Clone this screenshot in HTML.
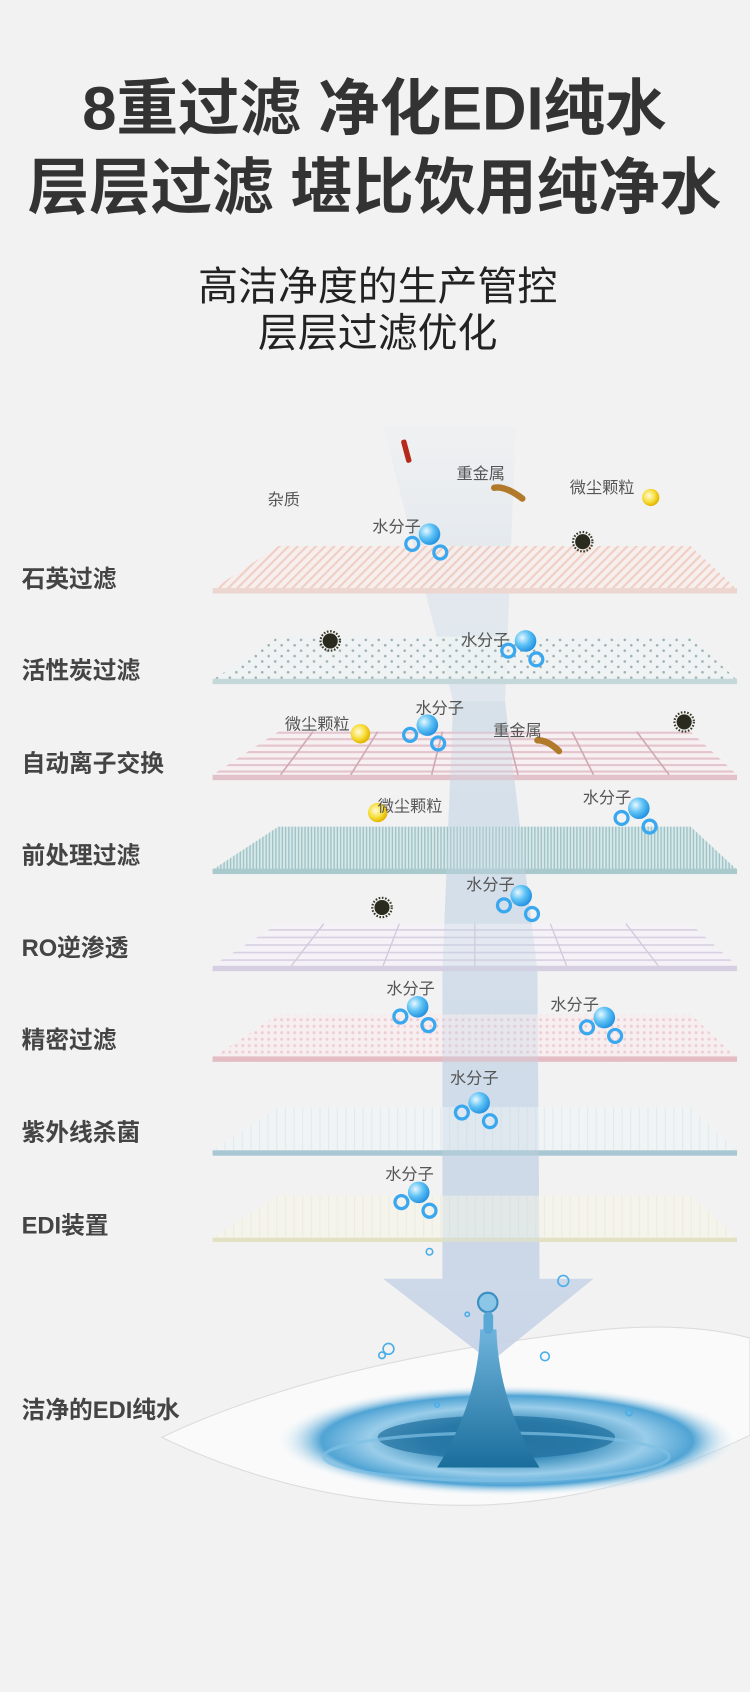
<!DOCTYPE html>
<html><head><meta charset="utf-8">
<style>
html,body{margin:0;padding:0;background:#f2f2f2;}
svg{display:block;}
text{font-family:"Liberation Sans","Noto Sans CJK SC",sans-serif;}
</style></head>
<body>
<svg width="750" height="1692" viewBox="0 0 695 1568" xmlns="http://www.w3.org/2000/svg">
<defs>
<pattern id="p1" width="6" height="6" patternUnits="userSpaceOnUse" patternTransform="rotate(45)">
<rect width="6" height="6" fill="#f8efec"/><rect width="2" height="6" fill="#efc9bd"/></pattern>
<pattern id="p2" width="12" height="10" patternUnits="userSpaceOnUse">
<rect width="12" height="10" fill="#eef3f3"/><circle cx="3" cy="3" r="1.2" fill="#8fa3a3"/><circle cx="9" cy="8" r="1.2" fill="#8fa3a3"/></pattern>
<pattern id="p3" width="10" height="6" patternUnits="userSpaceOnUse">
<rect width="10" height="6" fill="#f8f0f2"/><rect y="0" width="10" height="2" fill="#e2bcc6"/></pattern>
<pattern id="p4" width="3" height="6" patternUnits="userSpaceOnUse">
<rect width="3" height="6" fill="#d9e9ea"/><rect width="1.3" height="6" fill="#9fc3c7"/></pattern>
<pattern id="p5" width="10" height="7" patternUnits="userSpaceOnUse">
<rect width="10" height="7" fill="#f4f2f7"/><rect width="10" height="1.5" fill="#d4cbe0"/></pattern>
<pattern id="p6" width="6" height="6" patternUnits="userSpaceOnUse">
<rect width="6" height="6" fill="#f7eef0"/><circle cx="3" cy="3" r="1.4" fill="#edc9d0"/></pattern>
<pattern id="p7" width="8" height="6" patternUnits="userSpaceOnUse">
<rect width="8" height="6" fill="#f0f4f6"/><rect width="1" height="6" fill="#dde8ee"/></pattern>
<pattern id="p8" width="8" height="6" patternUnits="userSpaceOnUse">
<rect width="8" height="6" fill="#f5f4ea"/><rect width="1" height="6" fill="#eceadb"/></pattern>
<radialGradient id="mol" cx="0.35" cy="0.35" r="0.7">
<stop offset="0" stop-color="#e8f8ff"/><stop offset="0.5" stop-color="#5ec2f5"/><stop offset="1" stop-color="#1f8fe0"/></radialGradient>
<radialGradient id="yel" cx="0.4" cy="0.4" r="0.6">
<stop offset="0" stop-color="#fffbe0"/><stop offset="0.6" stop-color="#f7de3a"/><stop offset="1" stop-color="#e2b400"/></radialGradient>
<linearGradient id="beam" x1="0" y1="0" x2="0" y2="1">
<stop offset="0" stop-color="#d6e2ee" stop-opacity="0.1"/><stop offset="0.15" stop-color="#d0dde9" stop-opacity="0.45"/><stop offset="0.7" stop-color="#c9d6e8" stop-opacity="0.7"/><stop offset="1" stop-color="#c5d2e6" stop-opacity="0.9"/></linearGradient>
<radialGradient id="pool" cx="0.5" cy="0.5" r="0.5">
<stop offset="0" stop-color="#1f6f9a"/><stop offset="0.35" stop-color="#2b86b8"/><stop offset="0.6" stop-color="#8fc8e8"/><stop offset="0.8" stop-color="#3d9ad0"/><stop offset="1" stop-color="#ffffff" stop-opacity="0"/></radialGradient>
<linearGradient id="col" x1="0" y1="0" x2="0" y2="1">
<stop offset="0" stop-color="#6fb4dc"/><stop offset="1" stop-color="#1a6e9c"/></linearGradient>
<g id="m"><circle cx="0" cy="0" r="10" fill="url(#mol)"/><circle cx="-16" cy="9" r="6" fill="none" stroke="#3aa8ef" stroke-width="3"/><circle cx="10" cy="17" r="6" fill="none" stroke="#3aa8ef" stroke-width="3"/></g>
<g id="dk"><circle r="7" fill="#2a2a1e"/><circle r="9" fill="none" stroke="#3a3a2a" stroke-width="2" stroke-dasharray="1.5 1.5"/></g>
</defs>

<rect width="695" height="1568" fill="#f2f2f2"/>

<text x="347" y="120" text-anchor="middle" font-size="57" font-weight="bold" fill="#333">8重过滤 净化EDI纯水</text>
<text x="347" y="193" text-anchor="middle" font-size="57" font-weight="bold" fill="#333">层层过滤 堪比饮用纯净水</text>
<text x="350" y="278" text-anchor="middle" font-size="37" fill="#222">高洁净度的生产管控</text>
<text x="350" y="321" text-anchor="middle" font-size="37" fill="#222">层层过滤优化</text>

<path d="M150,1332 Q300,1260 560,1232 Q640,1225 695,1240 L695,1330 Q560,1395 430,1395 Q280,1395 150,1332Z" fill="#fafafa" stroke="#dcdcdc" stroke-width="1"/>

<polygon points="355,395 478,395 468,650 498,900 500,1185 550,1185 455,1262 355,1185 410,1185 410,900 420,650" fill="url(#beam)"/>

<g>
<polygon points="258,506 640,506 683,546 197,546" fill="url(#p1)" opacity="0.85"/><rect x="197" y="545" width="486" height="5" fill="#ecd6cf"/>
<polygon points="258,590 640,590 683,630 197,630" fill="url(#p2)" opacity="0.85"/><rect x="197" y="629" width="486" height="5" fill="#c4d8da"/>
<polygon points="258,678 640,678 683,718 197,718" fill="url(#p3)" opacity="0.85"/><rect x="197" y="718" width="486" height="5" fill="#e2c2ca"/>
<g stroke="#cfa9b4" stroke-width="1.5"><line x1="290" y1="678" x2="260" y2="718"/><line x1="350" y1="678" x2="325" y2="718"/><line x1="410" y1="678" x2="400" y2="718"/><line x1="470" y1="678" x2="480" y2="718"/><line x1="530" y1="678" x2="550" y2="718"/><line x1="590" y1="678" x2="620" y2="718"/></g>
<polygon points="258,766 640,766 683,806 197,806" fill="url(#p4)"/><rect x="197" y="805" width="486" height="5" fill="#a9c9cc"/>
<polygon points="258,856 640,856 683,895 197,895" fill="url(#p5)" opacity="0.9"/><rect x="197" y="895" width="486" height="5" fill="#d6cfe2"/>
<g stroke="#d2c8de" stroke-width="1.2"><line x1="300" y1="856" x2="270" y2="895"/><line x1="370" y1="856" x2="355" y2="895"/><line x1="440" y1="856" x2="440" y2="895"/><line x1="510" y1="856" x2="525" y2="895"/><line x1="580" y1="856" x2="610" y2="895"/></g>
<polygon points="258,940 640,940 683,980 197,980" fill="url(#p6)" opacity="0.9"/><rect x="197" y="979" width="486" height="5" fill="#e3bcc4"/>
<polygon points="258,1026 640,1026 683,1066 197,1066" fill="url(#p7)" opacity="0.8"/><rect x="197" y="1066" width="486" height="5" fill="#a8c7d2"/>
<polygon points="258,1108 640,1108 683,1147 197,1147" fill="url(#p8)" opacity="0.8"/><rect x="197" y="1147" width="486" height="4" fill="#e2e1c4"/>
</g>

<polygon points="420,650 468,650 498,900 500,1185 410,1185 410,900" fill="#c8d8e6" opacity="0.3"/>

<ellipse cx="470" cy="1335" rx="215" ry="52" fill="url(#pool)" opacity="0.9"/>
<ellipse cx="460" cy="1332" rx="110" ry="20" fill="#1e6e9c" opacity="0.7"/>
<ellipse cx="460" cy="1350" rx="160" ry="22" fill="none" stroke="#7fc0e4" stroke-width="3" opacity="0.7"/>
<path d="M445,1232 L460,1232 Q462,1300 500,1360 L405,1360 Q443,1300 445,1232Z" fill="url(#col)"/>
<circle cx="452" cy="1207" r="9" fill="#8cc6e6" stroke="#3b8fc2" stroke-width="2"/>
<rect x="448" y="1216" width="9" height="20" rx="4" fill="#5aa8d6"/>

<g font-size="22" fill="#444" font-weight="bold">
<text x="20" y="544">石英过滤</text>
<text x="20" y="629">活性炭过滤</text>
<text x="20" y="715">自动离子交换</text>
<text x="20" y="800">前处理过滤</text>
<text x="20" y="886">RO逆渗透</text>
<text x="20" y="971">精密过滤</text>
<text x="20" y="1057">紫外线杀菌</text>
<text x="20" y="1143">EDI装置</text>
<text x="20" y="1314">洁净的EDI纯水</text>
</g>

<rect x="374" y="407" width="5" height="22" rx="2" fill="#b52a1a" transform="rotate(-15 377 418)"/>
<path d="M458,452 Q468,450 484,462" stroke="#b07a2a" stroke-width="6" fill="none" stroke-linecap="round"/>
<path d="M498,686 Q508,686 518,696" stroke="#b07a2a" stroke-width="6" fill="none" stroke-linecap="round"/>
<circle cx="603" cy="461" r="8" fill="url(#yel)"/>
<circle cx="334" cy="680" r="9" fill="url(#yel)"/>
<circle cx="350" cy="753" r="9" fill="url(#yel)"/>
<use href="#dk" x="540" y="502"/><use href="#dk" x="306" y="594"/><use href="#dk" x="634" y="669"/><use href="#dk" x="354" y="841"/>

<g font-size="15" fill="#555">
<text x="248" y="468">杂质</text>
<text x="423" y="444">重金属</text>
<text x="528" y="457">微尘颗粒</text>
<text x="264" y="676">微尘颗粒</text>
<text x="457" y="682">重金属</text>
<text x="350" y="752">微尘颗粒</text>
<text x="345" y="493">水分子</text>
<text x="427" y="598">水分子</text>
<text x="385" y="661">水分子</text>
<text x="540" y="744">水分子</text>
<text x="432" y="825">水分子</text>
<text x="358" y="921">水分子</text>
<text x="510" y="936">水分子</text>
<text x="417" y="1004">水分子</text>
<text x="357" y="1093">水分子</text>
</g>

<use href="#m" x="398" y="495"/>
<use href="#m" x="487" y="594"/>
<use href="#m" x="396" y="672"/>
<use href="#m" x="592" y="749"/>
<use href="#m" x="483" y="830"/>
<use href="#m" x="387" y="933"/>
<use href="#m" x="560" y="943"/>
<use href="#m" x="444" y="1022"/>
<use href="#m" x="388" y="1105"/>
<g fill="none" stroke="#4aaee8" stroke-width="1.5">
<circle cx="398" cy="1160" r="3"/><circle cx="522" cy="1187" r="5"/><circle cx="360" cy="1250" r="5"/><circle cx="354" cy="1256" r="3"/><circle cx="505" cy="1257" r="4"/><circle cx="433" cy="1218" r="2"/><circle cx="405" cy="1302" r="2"/><circle cx="583" cy="1309" r="3"/>
</g>
</svg>
</body></html>
